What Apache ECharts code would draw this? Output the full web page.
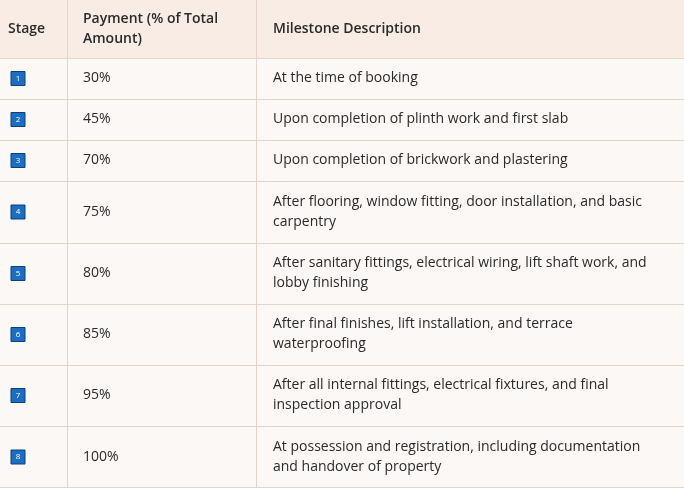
<!DOCTYPE html><html><head><meta charset="utf-8"><script src="https://cdn.jsdelivr.net/npm/echarts@6/dist/echarts.min.js"></script>
<style>html,body{margin:0;padding:0;background:#fff}#c{width:684px;height:488px}</style></head><body><div id="c"></div><script>
const headers=["Stage","Payment (% of Total\nAmount)","Milestone Description"];
const stages=["1","2","3","4","5","6","7","8"];
const payments=["30%","45%","70%","75%","80%","85%","95%","100%"];
const descriptions=["At the time of booking","Upon completion of plinth work and first slab","Upon completion of brickwork and plastering","After flooring, window fitting, door installation, and basic\ncarpentry","After sanitary fittings, electrical wiring, lift shaft work, and\nlobby finishing","After final finishes, lift installation, and terrace\nwaterproofing","After all internal fittings, electrical fixtures, and final\ninspection approval","At possession and registration, including documentation\nand handover of property"];
const colX=[0,67,256,684];
const rowY=[0,58,99,140,181,243,304,365,426,488];
const border='#e6d3c9', font='"Open Sans", sans-serif';
const g=[];
for(let r=0;r<rowY.length-1;r++){
  g.push({type:'rect',shape:{x:0,y:rowY[r],width:684,height:rowY[r+1]-rowY[r]},style:{fill:r===0?'#f9ece4':'#fcf8f6'}});
}
for(let r=1;r<rowY.length-1;r++) g.push({type:'line',shape:{x1:0,y1:rowY[r]+0.5,x2:684,y2:rowY[r]+0.5},style:{stroke:border,lineWidth:1}});
g.push({type:'line',shape:{x1:0,y1:487.5,x2:684,y2:487.5},style:{stroke:border,lineWidth:1}});
for(let c=1;c<colX.length-1;c++) g.push({type:'line',shape:{x1:colX[c]+0.5,y1:0,x2:colX[c]+0.5,y2:488},style:{stroke:border,lineWidth:1}});
const tx=[8,83,273];
headers.forEach((h,i)=>g.push({type:'text',x:tx[i],y:rowY[1]/2,style:{text:h,fill:'#2a2a2a',font:'600 14px '+font,verticalAlign:'middle',lineHeight:20}}));
for(let r=0;r<stages.length;r++){
  const cy=(rowY[r+1]+rowY[r+2])/2;
  g.push({type:'rect',shape:{x:11,y:cy-7,width:14,height:14},style:{fill:'#1a6fc4',stroke:'#0d3f78',lineWidth:1}});
  g.push({type:'text',x:18,y:cy,style:{text:stages[r],fill:'#fff',font:'8px '+font,align:'center',verticalAlign:'middle'}});
  g.push({type:'text',x:tx[1],y:cy,style:{text:payments[r],fill:'#2a2a2a',font:'14px '+font,verticalAlign:'middle'}});
  g.push({type:'text',x:tx[2],y:cy,style:{text:descriptions[r],fill:'#2a2a2a',font:'14px '+font,verticalAlign:'middle',lineHeight:20}});
}
const chart=echarts.init(document.getElementById('c'));
chart.setOption({animation:false,graphic:g});
</script></body></html>
